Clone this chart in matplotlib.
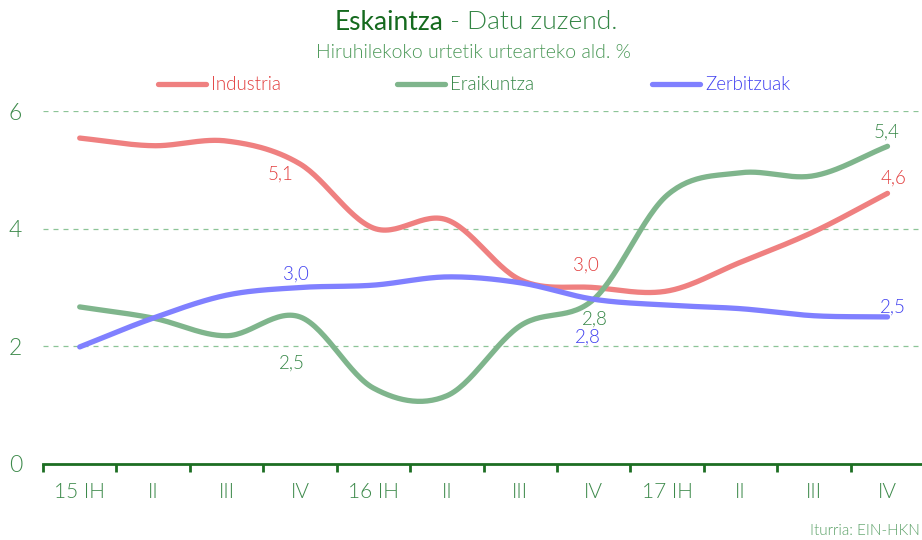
import numpy as np
import matplotlib.pyplot as plt

plt.rcParams['font.family'] = ['Lato', 'DejaVu Sans']
plt.rcParams['font.weight'] = 300

quarters = ["15 IH", "II", "III", "IV", "16 IH", "II", "III", "IV", "17 IH", "II", "III", "IV"]
industria = [5.54, 5.41, 5.49, 5.1, 4.01, 4.15, 3.13, 3.0, 2.94, 3.43, 3.95, 4.6]
eraikuntza = [2.67, 2.48, 2.18, 2.5, 1.29, 1.16, 2.35, 2.8, 4.57, 4.95, 4.9, 5.4]
zerbitzuak = [1.99, 2.48, 2.87, 3.0, 3.04, 3.18, 3.08, 2.8, 2.7, 2.64, 2.52, 2.5]

# labelled points: (index, text, dx, dy in points)
lab_ind = [(3, "5,1", -14, -7), (7, "3,0", -6, 16), (11, "4,6", 4, 11)]
lab_era = [(3, "2,5", -6, -33), (7, "2,8", 1, -14), (11, "5,4", -1, 10)]
lab_zer = [(3, "3,0", -3, 10), (7, "2,8", -4, -27), (11, "2,5", 4, 7)]

c_ind, c_ind_t = "#ef8080", "#e23c3c"
c_era, c_era_t = "#7fb58c", "#338544"
c_zer, c_zer_t = "#8080ff", "#3e3ef0"
green_txt = "#3d8a4b"


def smooth(y, n=30):
    # cubic hermite with catmull-rom tangents, just for drawing the curve
    y = np.asarray(y, float)
    x = np.arange(len(y))
    m = np.gradient(y)
    xs, ys = [], []
    for i in range(len(y) - 1):
        t = np.linspace(0, 1, n, endpoint=False)
        h00 = 2*t**3 - 3*t**2 + 1
        h10 = t**3 - 2*t**2 + t
        h01 = -2*t**3 + 3*t**2
        h11 = t**3 - t**2
        xs.append(x[i] + t)
        ys.append(h00*y[i] + h10*m[i] + h01*y[i+1] + h11*m[i+1])
    xs.append([x[-1]])
    ys.append([y[-1]])
    return np.concatenate(xs), np.concatenate(ys)


fig = plt.figure(figsize=(9.22, 5.4), dpi=100)
ax = fig.add_axes([43/922, 76/540, 1 - 43/922, (464-111)/540])

for vals, col, ctxt, labs in [(industria, c_ind, c_ind_t, lab_ind),
                              (eraikuntza, c_era, c_era_t, lab_era),
                              (zerbitzuak, c_zer, c_zer_t, lab_zer)]:
    xs, ys = smooth(vals)
    ax.plot(xs, ys, color=col, lw=3.8, solid_capstyle='round', clip_on=False, zorder=3)
    for i, t, dx, dy in labs:
        ax.annotate(t, (i, vals[i]), xytext=(dx, dy), textcoords='offset points',
                    ha='center', va='center', color=ctxt, fontsize=13.5)

ax.set_xlim(-0.5, 11.47)
ax.set_ylim(0, 6)
for g in [2, 4, 6]:
    ax.axhline(g, color="#8cc497", lw=0.9, ls=(0, (4, 4)), zorder=1)

ax.set_xticks(np.arange(len(quarters)))
ax.set_xticklabels(quarters, fontsize=15, color=green_txt)
ax.set_xticks(np.arange(len(quarters)) - 0.5, minor=True)
ax.tick_params(axis='x', which='major', length=0, pad=13)
ax.tick_params(axis='x', which='minor', length=6, width=2, color="#1d6e22", direction='out')
ax.set_yticks([0, 2, 4, 6])
ax.set_yticklabels(["0", "2", "4", "6"], fontsize=16.5, color=green_txt)
ax.tick_params(axis='y', length=0, pad=15)
for s in ['top', 'right', 'left']:
    ax.spines[s].set_visible(False)
ax.spines['bottom'].set_color("#1d6e22")
ax.spines['bottom'].set_linewidth(2)

# title
fig.text(443/922, 1 - 22/540, "Eskaintza", ha='right', va='center', fontsize=19,
         color="#156a1e", fontweight='normal')
fig.text(443/922, 1 - 22/540, " - Datu zuzend.", ha='left', va='center', fontsize=19,
         color="#338544")
fig.text(473/922, 1 - 52/540, "Hiruhilekoko urtetik urtearteko ald. %", ha='center',
         va='center', fontsize=14, color="#4a9857")

# legend
for x0, name, col in [(158, "Industria", c_ind), (397, "Eraikuntza", c_era), (652, "Zerbitzuak", c_zer)]:
    fig.add_artist(plt.Line2D([x0/922, (x0+48)/922], [1-84/540, 1-84/540], color=col,
                              lw=3.8, solid_capstyle='round'))
    fig.text((x0+53)/922, 1-84/540, name, ha='left', va='center', fontsize=13.5,
             color={c_ind: c_ind_t, c_era: c_era_t, c_zer: c_zer_t}[col])

fig.text(920/922, 1-531/540, "Iturria: EIN-HKN", ha='right', va='center', fontsize=11,
         color="#5aa066")

fig.savefig("out.png", dpi=100)
